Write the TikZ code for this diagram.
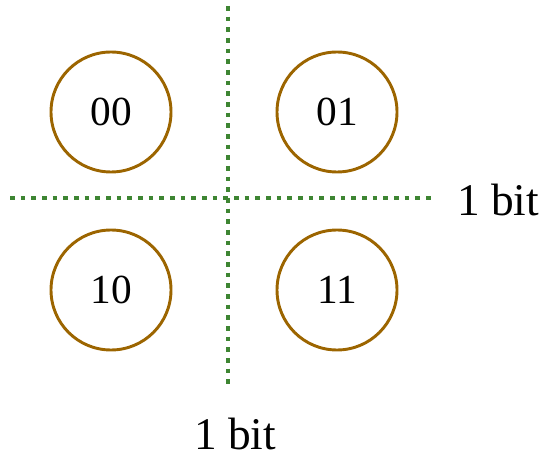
\documentclass[tikz,border=0pt]{standalone}
\usepackage{fontspec}
\setmainfont{Liberation Serif}
\definecolor{ringbrown}{RGB}{156,101,0}
\definecolor{dotgreen}{RGB}{62,133,50}
\begin{document}
\begin{tikzpicture}[x=0.75pt,y=-0.75pt,
  state/.style={circle,draw=ringbrown,line width=2.2pt,minimum size=90pt,inner sep=0pt,font=\fontsize{31}{36}\selectfont},
  divider/.style={draw=dotgreen,line width=3.6pt,dash pattern=on 3.6pt off 4.4pt},
  bitlabel/.style={anchor=base,inner sep=0pt,font=\fontsize{34}{40}\selectfont}]
\useasboundingbox (0,0) rectangle (545,459);
\coordinate (vtop) at (228,6);
\coordinate (vbot) at (228,386);
\coordinate (hleft) at (10,198);
\coordinate (hright) at (434,198);
\draw[divider] (vtop) -- (vbot);
\draw[divider] (hleft) -- (hright);
\node[state] (s00) at (111,112) {00};
\node[state] (s01) at (337,112) {01};
\node[state] (s10) at (111,290) {10};
\node[state] (s11) at (337,290) {11};
\node[bitlabel] (lblr) at (498,216) {1 bit};
\node[bitlabel] (lblb) at (235,449) {1 bit};
\end{tikzpicture}
\end{document}
